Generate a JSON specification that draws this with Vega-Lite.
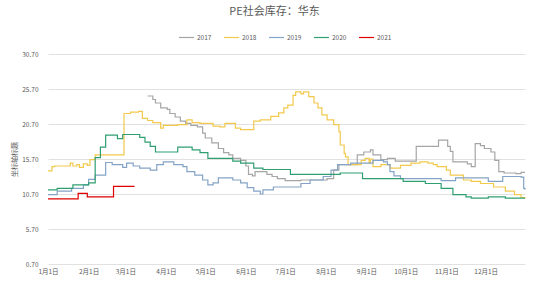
{
  "$schema": "https://vega.github.io/schema/vega-lite/v6.json",
  "width": 477,
  "height": 210,
  "autosize": {"type": "none"},
  "padding": {"left": 48, "top": 54, "right": 25, "bottom": 23},
  "background": "white",
  "title": {"text": "PE社会库存：华东", "anchor": "middle", "frame": "group", "dx": -12, "offset": 12, "fontSize": 11, "fontWeight": "normal", "color": "#595959", "font": "Noto Sans CJK SC"},
  "datasets": {
    "s2021": [
      {"year": "2021", "date": "2021-01-01", "value": 10.0},
      {"year": "2021", "date": "2021-01-24", "value": 10.8},
      {"year": "2021", "date": "2021-01-31", "value": 10.3},
      {"year": "2021", "date": "2021-02-20", "value": 11.8},
      {"year": "2021", "date": "2021-03-08", "value": 11.8}
    ],
    "s2020": [
      {"year": "2020", "date": "2021-01-01", "value": 11.3},
      {"year": "2020", "date": "2021-01-08", "value": 11.5},
      {"year": "2020", "date": "2021-01-20", "value": 12.0},
      {"year": "2020", "date": "2021-02-01", "value": 12.3},
      {"year": "2020", "date": "2021-02-06", "value": 15.9},
      {"year": "2020", "date": "2021-02-10", "value": 17.4},
      {"year": "2020", "date": "2021-02-14", "value": 19.1},
      {"year": "2020", "date": "2021-02-23", "value": 18.6},
      {"year": "2020", "date": "2021-02-27", "value": 19.2},
      {"year": "2020", "date": "2021-03-12", "value": 18.8},
      {"year": "2020", "date": "2021-03-16", "value": 18.1},
      {"year": "2020", "date": "2021-03-20", "value": 17.5},
      {"year": "2020", "date": "2021-03-24", "value": 16.7},
      {"year": "2020", "date": "2021-04-10", "value": 17.4},
      {"year": "2020", "date": "2021-04-21", "value": 17.0},
      {"year": "2020", "date": "2021-04-27", "value": 16.6},
      {"year": "2020", "date": "2021-05-03", "value": 15.8},
      {"year": "2020", "date": "2021-05-22", "value": 15.4},
      {"year": "2020", "date": "2021-05-28", "value": 15.1},
      {"year": "2020", "date": "2021-06-07", "value": 14.4},
      {"year": "2020", "date": "2021-06-14", "value": 14.2},
      {"year": "2020", "date": "2021-07-05", "value": 13.5},
      {"year": "2020", "date": "2021-08-12", "value": 13.7},
      {"year": "2020", "date": "2021-08-29", "value": 12.9},
      {"year": "2020", "date": "2021-09-29", "value": 12.5},
      {"year": "2020", "date": "2021-10-16", "value": 12.2},
      {"year": "2020", "date": "2021-10-28", "value": 11.5},
      {"year": "2020", "date": "2021-11-06", "value": 10.6},
      {"year": "2020", "date": "2021-11-16", "value": 10.3},
      {"year": "2020", "date": "2021-11-20", "value": 10.1},
      {"year": "2020", "date": "2021-12-03", "value": 10.3},
      {"year": "2020", "date": "2021-12-16", "value": 10.1},
      {"year": "2020", "date": "2021-12-31", "value": 10.1}
    ],
    "s2019": [
      {"year": "2019", "date": "2021-01-01", "value": 10.6},
      {"year": "2019", "date": "2021-01-08", "value": 11.1},
      {"year": "2019", "date": "2021-01-19", "value": 11.5},
      {"year": "2019", "date": "2021-01-28", "value": 12.0},
      {"year": "2019", "date": "2021-02-01", "value": 12.8},
      {"year": "2019", "date": "2021-02-06", "value": 13.4},
      {"year": "2019", "date": "2021-02-14", "value": 15.2},
      {"year": "2019", "date": "2021-02-19", "value": 14.9},
      {"year": "2019", "date": "2021-02-27", "value": 14.5},
      {"year": "2019", "date": "2021-03-02", "value": 15.1},
      {"year": "2019", "date": "2021-03-07", "value": 14.7},
      {"year": "2019", "date": "2021-03-12", "value": 14.4},
      {"year": "2019", "date": "2021-03-20", "value": 14.1},
      {"year": "2019", "date": "2021-03-25", "value": 14.9},
      {"year": "2019", "date": "2021-03-30", "value": 15.3},
      {"year": "2019", "date": "2021-04-07", "value": 14.9},
      {"year": "2019", "date": "2021-04-14", "value": 14.6},
      {"year": "2019", "date": "2021-04-17", "value": 13.9},
      {"year": "2019", "date": "2021-04-23", "value": 13.4},
      {"year": "2019", "date": "2021-04-29", "value": 12.7},
      {"year": "2019", "date": "2021-05-03", "value": 12.0},
      {"year": "2019", "date": "2021-05-07", "value": 12.3},
      {"year": "2019", "date": "2021-05-11", "value": 13.0},
      {"year": "2019", "date": "2021-05-22", "value": 12.7},
      {"year": "2019", "date": "2021-05-28", "value": 12.3},
      {"year": "2019", "date": "2021-06-02", "value": 11.6},
      {"year": "2019", "date": "2021-06-07", "value": 11.1},
      {"year": "2019", "date": "2021-06-12", "value": 10.7},
      {"year": "2019", "date": "2021-06-14", "value": 11.3},
      {"year": "2019", "date": "2021-06-22", "value": 11.7},
      {"year": "2019", "date": "2021-07-13", "value": 12.2},
      {"year": "2019", "date": "2021-07-20", "value": 12.7},
      {"year": "2019", "date": "2021-07-30", "value": 13.2},
      {"year": "2019", "date": "2021-08-05", "value": 14.1},
      {"year": "2019", "date": "2021-08-10", "value": 14.9},
      {"year": "2019", "date": "2021-08-20", "value": 15.1},
      {"year": "2019", "date": "2021-09-06", "value": 15.5},
      {"year": "2019", "date": "2021-09-14", "value": 15.3},
      {"year": "2019", "date": "2021-09-17", "value": 14.9},
      {"year": "2019", "date": "2021-09-19", "value": 13.9},
      {"year": "2019", "date": "2021-09-22", "value": 13.3},
      {"year": "2019", "date": "2021-09-27", "value": 12.9},
      {"year": "2019", "date": "2021-10-28", "value": 12.6},
      {"year": "2019", "date": "2021-11-08", "value": 13.0},
      {"year": "2019", "date": "2021-12-03", "value": 12.5},
      {"year": "2019", "date": "2021-12-14", "value": 13.2},
      {"year": "2019", "date": "2021-12-28", "value": 13.1},
      {"year": "2019", "date": "2021-12-30", "value": 11.5},
      {"year": "2019", "date": "2021-12-31", "value": 11.3}
    ],
    "s2018": [
      {"year": "2018", "date": "2021-01-01", "value": 14.0},
      {"year": "2018", "date": "2021-01-04", "value": 14.6},
      {"year": "2018", "date": "2021-01-06", "value": 14.7},
      {"year": "2018", "date": "2021-01-18", "value": 15.1},
      {"year": "2018", "date": "2021-01-20", "value": 14.7},
      {"year": "2018", "date": "2021-01-23", "value": 14.9},
      {"year": "2018", "date": "2021-01-25", "value": 14.5},
      {"year": "2018", "date": "2021-01-28", "value": 15.0},
      {"year": "2018", "date": "2021-01-31", "value": 14.8},
      {"year": "2018", "date": "2021-02-02", "value": 15.6},
      {"year": "2018", "date": "2021-02-06", "value": 16.3},
      {"year": "2018", "date": "2021-02-28", "value": 22.2},
      {"year": "2018", "date": "2021-03-05", "value": 22.4},
      {"year": "2018", "date": "2021-03-11", "value": 22.5},
      {"year": "2018", "date": "2021-03-14", "value": 21.5},
      {"year": "2018", "date": "2021-03-18", "value": 21.2},
      {"year": "2018", "date": "2021-03-22", "value": 20.9},
      {"year": "2018", "date": "2021-03-28", "value": 20.1},
      {"year": "2018", "date": "2021-03-30", "value": 20.5},
      {"year": "2018", "date": "2021-04-10", "value": 20.6},
      {"year": "2018", "date": "2021-04-17", "value": 21.3},
      {"year": "2018", "date": "2021-04-21", "value": 20.9},
      {"year": "2018", "date": "2021-04-27", "value": 20.8},
      {"year": "2018", "date": "2021-05-07", "value": 20.4},
      {"year": "2018", "date": "2021-05-12", "value": 20.3},
      {"year": "2018", "date": "2021-05-16", "value": 20.8},
      {"year": "2018", "date": "2021-05-24", "value": 20.1},
      {"year": "2018", "date": "2021-05-28", "value": 19.9},
      {"year": "2018", "date": "2021-06-07", "value": 21.1},
      {"year": "2018", "date": "2021-06-12", "value": 21.3},
      {"year": "2018", "date": "2021-06-20", "value": 21.8},
      {"year": "2018", "date": "2021-06-26", "value": 22.3},
      {"year": "2018", "date": "2021-06-30", "value": 23.0},
      {"year": "2018", "date": "2021-07-03", "value": 23.4},
      {"year": "2018", "date": "2021-07-07", "value": 24.8},
      {"year": "2018", "date": "2021-07-09", "value": 25.3},
      {"year": "2018", "date": "2021-07-13", "value": 25.0},
      {"year": "2018", "date": "2021-07-15", "value": 25.3},
      {"year": "2018", "date": "2021-07-19", "value": 24.6},
      {"year": "2018", "date": "2021-07-23", "value": 23.7},
      {"year": "2018", "date": "2021-07-26", "value": 23.0},
      {"year": "2018", "date": "2021-07-29", "value": 22.0},
      {"year": "2018", "date": "2021-08-02", "value": 21.3},
      {"year": "2018", "date": "2021-08-07", "value": 20.6},
      {"year": "2018", "date": "2021-08-11", "value": 19.6},
      {"year": "2018", "date": "2021-08-12", "value": 17.7},
      {"year": "2018", "date": "2021-08-15", "value": 16.5},
      {"year": "2018", "date": "2021-08-16", "value": 16.0},
      {"year": "2018", "date": "2021-08-18", "value": 14.9},
      {"year": "2018", "date": "2021-08-28", "value": 15.5},
      {"year": "2018", "date": "2021-08-31", "value": 15.8},
      {"year": "2018", "date": "2021-09-03", "value": 15.1},
      {"year": "2018", "date": "2021-09-04", "value": 15.7},
      {"year": "2018", "date": "2021-09-06", "value": 14.6},
      {"year": "2018", "date": "2021-09-12", "value": 14.9},
      {"year": "2018", "date": "2021-09-19", "value": 14.4},
      {"year": "2018", "date": "2021-09-27", "value": 14.8},
      {"year": "2018", "date": "2021-10-05", "value": 15.1},
      {"year": "2018", "date": "2021-10-12", "value": 15.3},
      {"year": "2018", "date": "2021-10-18", "value": 15.1},
      {"year": "2018", "date": "2021-10-22", "value": 14.9},
      {"year": "2018", "date": "2021-10-25", "value": 14.6},
      {"year": "2018", "date": "2021-11-01", "value": 14.1},
      {"year": "2018", "date": "2021-11-04", "value": 13.4},
      {"year": "2018", "date": "2021-11-14", "value": 12.7},
      {"year": "2018", "date": "2021-11-20", "value": 12.5},
      {"year": "2018", "date": "2021-11-27", "value": 12.2},
      {"year": "2018", "date": "2021-12-07", "value": 11.7},
      {"year": "2018", "date": "2021-12-16", "value": 11.1},
      {"year": "2018", "date": "2021-12-23", "value": 10.6},
      {"year": "2018", "date": "2021-12-28", "value": 10.2},
      {"year": "2018", "date": "2021-12-31", "value": 10.1}
    ],
    "s2017": [
      {"year": "2017", "date": "2021-03-18", "value": 24.7},
      {"year": "2017", "date": "2021-03-22", "value": 24.2},
      {"year": "2017", "date": "2021-03-24", "value": 23.7},
      {"year": "2017", "date": "2021-03-28", "value": 23.0},
      {"year": "2017", "date": "2021-04-02", "value": 22.8},
      {"year": "2017", "date": "2021-04-04", "value": 22.2},
      {"year": "2017", "date": "2021-04-08", "value": 21.7},
      {"year": "2017", "date": "2021-04-12", "value": 21.1},
      {"year": "2017", "date": "2021-04-16", "value": 20.8},
      {"year": "2017", "date": "2021-04-20", "value": 20.5},
      {"year": "2017", "date": "2021-04-25", "value": 20.3},
      {"year": "2017", "date": "2021-04-29", "value": 19.4},
      {"year": "2017", "date": "2021-05-01", "value": 18.7},
      {"year": "2017", "date": "2021-05-06", "value": 18.0},
      {"year": "2017", "date": "2021-05-11", "value": 17.2},
      {"year": "2017", "date": "2021-05-15", "value": 16.6},
      {"year": "2017", "date": "2021-05-19", "value": 16.3},
      {"year": "2017", "date": "2021-05-22", "value": 15.8},
      {"year": "2017", "date": "2021-05-28", "value": 15.5},
      {"year": "2017", "date": "2021-06-01", "value": 14.7},
      {"year": "2017", "date": "2021-06-03", "value": 13.5},
      {"year": "2017", "date": "2021-06-06", "value": 13.3},
      {"year": "2017", "date": "2021-06-08", "value": 13.9},
      {"year": "2017", "date": "2021-06-17", "value": 13.5},
      {"year": "2017", "date": "2021-06-21", "value": 13.2},
      {"year": "2017", "date": "2021-06-25", "value": 12.9},
      {"year": "2017", "date": "2021-07-01", "value": 12.6},
      {"year": "2017", "date": "2021-07-13", "value": 12.7},
      {"year": "2017", "date": "2021-08-02", "value": 12.9},
      {"year": "2017", "date": "2021-08-07", "value": 14.1},
      {"year": "2017", "date": "2021-08-11", "value": 14.9},
      {"year": "2017", "date": "2021-08-25", "value": 16.3},
      {"year": "2017", "date": "2021-08-30", "value": 16.7},
      {"year": "2017", "date": "2021-09-04", "value": 17.0},
      {"year": "2017", "date": "2021-09-06", "value": 16.3},
      {"year": "2017", "date": "2021-09-12", "value": 15.6},
      {"year": "2017", "date": "2021-09-17", "value": 15.8},
      {"year": "2017", "date": "2021-09-23", "value": 15.4},
      {"year": "2017", "date": "2021-10-09", "value": 17.5},
      {"year": "2017", "date": "2021-10-26", "value": 18.4},
      {"year": "2017", "date": "2021-11-02", "value": 17.5},
      {"year": "2017", "date": "2021-11-04", "value": 16.8},
      {"year": "2017", "date": "2021-11-06", "value": 15.3},
      {"year": "2017", "date": "2021-11-17", "value": 15.0},
      {"year": "2017", "date": "2021-11-20", "value": 14.6},
      {"year": "2017", "date": "2021-11-23", "value": 17.9},
      {"year": "2017", "date": "2021-11-27", "value": 17.6},
      {"year": "2017", "date": "2021-11-30", "value": 17.2},
      {"year": "2017", "date": "2021-12-05", "value": 16.7},
      {"year": "2017", "date": "2021-12-08", "value": 15.5},
      {"year": "2017", "date": "2021-12-11", "value": 13.9},
      {"year": "2017", "date": "2021-12-15", "value": 13.7},
      {"year": "2017", "date": "2021-12-24", "value": 13.6},
      {"year": "2017", "date": "2021-12-28", "value": 13.8},
      {"year": "2017", "date": "2021-12-31", "value": 13.8}
    ]
  },
  "layer": [
    {"data": {"name": "s2017"}, "mark": {"type": "line", "interpolate": "step-after"}},
    {"data": {"name": "s2018"}, "mark": {"type": "line", "interpolate": "step-after"}},
    {"data": {"name": "s2019"}, "mark": {"type": "line", "interpolate": "step-after"}},
    {"data": {"name": "s2020"}, "mark": {"type": "line", "interpolate": "step-after"}},
    {"data": {"name": "s2021"}, "mark": {"type": "line", "interpolate": "step-after"}}
  ],
  "encoding": {
    "x": {
      "field": "date", "type": "temporal",
      "scale": {"type": "utc", "domain": [{"year": 2021, "month": 1, "date": 1, "utc": true}, {"year": 2021, "month": 12, "date": 31, "utc": true}]},
      "axis": {
        "title": null, "domain": false, "ticks": false, "grid": false,
        "values": [
          {"year": 2021, "month": 1, "date": 1, "utc": true},
          {"year": 2021, "month": 2, "date": 1, "utc": true},
          {"year": 2021, "month": 3, "date": 1, "utc": true},
          {"year": 2021, "month": 4, "date": 1, "utc": true},
          {"year": 2021, "month": 5, "date": 1, "utc": true},
          {"year": 2021, "month": 6, "date": 1, "utc": true},
          {"year": 2021, "month": 7, "date": 1, "utc": true},
          {"year": 2021, "month": 8, "date": 1, "utc": true},
          {"year": 2021, "month": 9, "date": 1, "utc": true},
          {"year": 2021, "month": 10, "date": 1, "utc": true},
          {"year": 2021, "month": 11, "date": 1, "utc": true},
          {"year": 2021, "month": 12, "date": 1, "utc": true}
        ],
        "labelExpr": "utcFormat(datum.value, '%-m月%-d日')",
        "labelFontSize": 6.5, "labelColor": "#595959", "labelPadding": 4, "labelFont": "Noto Sans CJK SC",
        "labelOverlap": false, "labelFlush": false
      }
    },
    "y": {
      "field": "value", "type": "quantitative",
      "scale": {"domain": [0.7, 30.7], "nice": false, "zero": false},
      "axis": {
        "title": "坐标轴标题", "titleFontSize": 7, "titleFontWeight": "normal", "titleColor": "#595959", "titleFont": "Noto Sans CJK SC", "titlePadding": 4,
        "values": [0.7, 5.7, 10.7, 15.7, 20.7, 25.7, 30.7], "format": ".2f",
        "domain": false, "ticks": false, "grid": true, "gridColor": "#d9d9d9", "gridWidth": 0.8,
        "labelFontSize": 6.5, "labelColor": "#595959", "labelPadding": 10, "labelFont": "Noto Sans CJK SC"
      }
    },
    "color": {
      "field": "year", "type": "nominal",
      "scale": {"domain": ["2017", "2018", "2019", "2020", "2021"], "range": ["#a5a5a5", "#f2c94c", "#84a3c6", "#2f9f72", "#e00000"]},
      "legend": {
        "title": null, "orient": "none", "direction": "horizontal", "legendX": 130, "legendY": -25,
        "symbolType": "stroke", "symbolSize": 225, "labelFontSize": 6.5, "labelColor": "#595959", "labelFont": "Noto Sans CJK SC",
        "labelOffset": 2, "columnPadding": 9
      }
    },
    "strokeWidth": {
      "field": "year", "type": "nominal",
      "scale": {"domain": ["2017", "2018", "2019", "2020", "2021"], "range": [1.2, 1.2, 1.2, 1.2, 2.4]},
      "legend": {
        "title": null, "orient": "none", "direction": "horizontal", "legendX": 130, "legendY": -25,
        "symbolType": "stroke", "symbolSize": 225, "labelFontSize": 6.5, "labelColor": "#595959", "labelFont": "Noto Sans CJK SC",
        "labelOffset": 2, "columnPadding": 9
      }
    }
  },
  "config": {
    "view": {"stroke": null},
    "font": "Noto Sans CJK SC"
  }
}
